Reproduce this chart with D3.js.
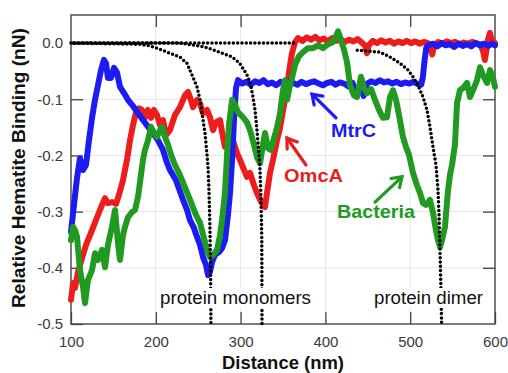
<!DOCTYPE html>
<html>
<head>
<meta charset="utf-8">
<script src="https://d3js.org/d3.v7.min.js"></script>
<style>
  body { margin: 0; background: #fff; }
  svg { font-family: "Liberation Sans", Arial, sans-serif; }
</style>
</head>
<body>
<svg id="chart" width="508" height="373"></svg>
<script>
// values (distance nm, binding nN)
const xTicks = [100, 200, 300, 400, 500, 600];
const yTicks = [0, -0.1, -0.2, -0.3, -0.4, -0.5];

const omcaData = [
  [100,-0.457],[102.4,-0.427],[104.7,-0.436],[108.3,-0.407],[113,-0.383],[117.7,-0.359],
  [122.4,-0.342],[127.1,-0.324],[131.8,-0.306],[136.6,-0.288],[140.1,-0.276],[143.6,-0.285],
  [148.3,-0.283],[153.1,-0.286],[156.6,-0.27],[161.3,-0.244],[166,-0.208],[169.6,-0.173],
  [173.1,-0.146],[176.7,-0.123],[180.2,-0.116],[183.7,-0.119],[187.3,-0.133],[190.8,-0.119],
  [194.3,-0.133],[197.9,-0.119],[201.4,-0.128],[205,-0.146],[208.5,-0.137],[212,-0.164],
  [216.7,-0.155],[222.6,-0.128],[228.5,-0.114],[234.4,-0.093],[238,-0.087],[241.5,-0.101],
  [243.9,-0.114],[248.6,-0.101],[252.1,-0.107],[255.7,-0.125],[260.4,-0.119],[263.9,-0.132],
  [267.5,-0.155],[271,-0.141],[275.7,-0.137],[279.2,-0.167],[281.6,-0.185],[286.3,-0.164],
  [291,-0.173],[295.8,-0.196],[299.3,-0.208],[302.8,-0.221],[307.5,-0.238],[311.1,-0.231],
  [315.8,-0.253],[319.3,-0.267],[322.9,-0.279],[325.2,-0.285],[328.8,-0.292],[331.1,-0.267],
  [334.7,-0.231],[338.2,-0.208],[342.9,-0.173],[346.5,-0.151],[351.2,-0.11],[354.7,-0.078],
  [358.3,-0.039],[360.6,-0.018],[364.2,0.002],[367.7,0.009],[373,0.004],[378,0.01],
  [383,0.006],[388,0.011],[393,0.005],[398,0.008],[403,0.003],[408,0.009],[413,0.004],
  [418,0.007],[423,0.002],[428,0.006],[433,0.003],[438,0.007],[443,0.001],[447,-0.005],
  [449,-0.018],[451,-0.004],[456,0.004],[461,0],[466,0.005],[471,0.001],[476,0.004],
  [481,-0.001],[486,0.003],[491,0],[496,0.004],[501,0],[506,0.003],[511,-0.001],[516,0.002],
  [521,0],[524,-0.01],[526,-0.02],[528,-0.004],[533,0.002],[538,-0.001],[543,0.003],
  [548,0],[553,0.002],[558,-0.002],[563,0.001],[568,-0.001],[573,0.002],[578,0],
  [583,-0.003],[586,-0.015],[588,-0.03],[590,-0.012],[592,0.008],[594,0.018],[596,0.006],[600,0]
];

const mtrcData = [
  [100,-0.336],[103.5,-0.288],[107.1,-0.24],[110.6,-0.205],[114.2,-0.226],[117.7,-0.217],
  [121.2,-0.173],[124.8,-0.133],[128.3,-0.101],[131.8,-0.075],[135.4,-0.048],[138.9,-0.03],
  [141.3,-0.036],[143.6,-0.062],[147.2,-0.062],[150.7,-0.044],[154.2,-0.052],[157.8,-0.078],
  [162.5,-0.089],[167.2,-0.101],[173.1,-0.112],[179,-0.125],[184.9,-0.137],[190.8,-0.149],
  [196.7,-0.16],[202.6,-0.173],[208.5,-0.19],[212.5,-0.21],[216.7,-0.226],[223.8,-0.244],
  [232.1,-0.279],[236.8,-0.297],[240.3,-0.315],[245,-0.329],[248.6,-0.345],[252.1,-0.359],
  [255.7,-0.381],[259.2,-0.395],[261.6,-0.413],[263.9,-0.407],[266.3,-0.39],[269.8,-0.377],
  [274.5,-0.372],[278.1,-0.365],[281.6,-0.351],[285.1,-0.306],[287.5,-0.267],[289.9,-0.208],
  [292.2,-0.137],[294.6,-0.08],[296.9,-0.066],[302,-0.072],[307,-0.069],[312,-0.074],
  [317,-0.068],[322,-0.071],[327,-0.066],[332,-0.073],[337,-0.07],[342,-0.075],[347,-0.069],
  [352,-0.072],[357,-0.067],[362,-0.071],[367,-0.074],[372,-0.069],[377,-0.073],[382,-0.07],
  [387,-0.068],[392,-0.072],[397,-0.075],[402,-0.071],[407,-0.069],[412,-0.074],[417,-0.07],
  [422,-0.072],[427,-0.077],[432,-0.071],[437,-0.092],[441,-0.075],[445,-0.094],[449,-0.072],
  [454,-0.068],[459,-0.071],[464,-0.066],[469,-0.07],[474,-0.068],[479,-0.072],[484,-0.069],
  [489,-0.073],[494,-0.07],[499,-0.072],[504,-0.069],[509,-0.073],[513,-0.074],[515,-0.06],
  [517,-0.03],[519,-0.008],[522,-0.003],[527,-0.001],[532,-0.006],[537,0],[542,-0.004],
  [547,-0.002],[552,-0.007],[557,-0.001],[562,-0.005],[567,-0.002],[572,-0.006],[577,0],
  [582,-0.004],[587,-0.001],[592,-0.005],[596,-0.001],[600,-0.004]
];

const bacteriaData = [
  [100,-0.351],[102.4,-0.327],[104.7,-0.333],[107.1,-0.345],[110.6,-0.404],[114.2,-0.434],
  [116.5,-0.463],[120,-0.422],[124.8,-0.404],[128.3,-0.374],[131.8,-0.386],[136.6,-0.368],
  [140.1,-0.399],[143.6,-0.359],[148.3,-0.327],[151.9,-0.297],[155.4,-0.356],[157.8,-0.386],
  [161.3,-0.342],[163.7,-0.327],[167.2,-0.31],[171.9,-0.301],[175.5,-0.297],[179,-0.274],
  [182.5,-0.235],[184.9,-0.208],[187.3,-0.19],[190.8,-0.173],[194.3,-0.149],[197.9,-0.16],
  [201.4,-0.167],[205,-0.155],[207.3,-0.149],[210.8,-0.167],[214.4,-0.181],[218,-0.199],
  [222.6,-0.217],[228.5,-0.235],[233.3,-0.253],[238,-0.27],[242.7,-0.288],[247.4,-0.306],
  [252.1,-0.32],[256.8,-0.347],[260.4,-0.368],[263.9,-0.381],[267.5,-0.377],[272.2,-0.368],
  [275.7,-0.342],[278.1,-0.315],[281.6,-0.267],[284,-0.199],[286.3,-0.146],[290,-0.101],
  [293.4,-0.11],[296.9,-0.123],[302.8,-0.132],[307.5,-0.141],[311.1,-0.155],[315.8,-0.181],
  [319.3,-0.203],[322.9,-0.214],[326.4,-0.181],[328.8,-0.16],[332.3,-0.187],[335.8,-0.19],
  [339.4,-0.169],[342.9,-0.151],[346.5,-0.125],[350,-0.084],[352.4,-0.066],[354.7,-0.101],
  [358.3,-0.075],[360.6,-0.062],[364.2,-0.039],[368.9,-0.023],[373.6,-0.016],[379.5,-0.009],
  [385.4,-0.009],[391.3,-0.004],[397.2,-0.009],[403.1,-0.002],[409,0.002],[412.5,0.012],
  [414.9,0.021],[418.4,0.005],[422,-0.012],[425.5,-0.034],[429,-0.075],[433.7,-0.093],
  [437.3,-0.096],[442,-0.06],[445.5,-0.08],[449.1,-0.089],[453.8,-0.082],[458.5,-0.101],
  [463.2,-0.119],[467.9,-0.133],[472.6,-0.132],[476.2,-0.096],[479.7,-0.084],[483.3,-0.101],
  [486.8,-0.128],[491.5,-0.167],[495,-0.185],[498.6,-0.199],[503.3,-0.231],[508,-0.253],
  [511.6,-0.267],[515.1,-0.285],[518.6,-0.288],[523.3,-0.279],[526.9,-0.302],[530.4,-0.333],
  [532.8,-0.351],[535.1,-0.363],[537.5,-0.351],[541,-0.327],[544.6,-0.262],[546.9,-0.235],
  [549.3,-0.217],[552.8,-0.181],[555.2,-0.107],[558.7,-0.084],[562.3,-0.08],[567,-0.071],
  [570.5,-0.096],[575.2,-0.08],[578.8,-0.066],[582.3,-0.043],[585.8,-0.057],[590.6,-0.071],
  [594.1,-0.048],[597.6,-0.062],[600,-0.078]
];

// dotted model curves (null = hidden behind the OmcA trace)
const monomer1Fit = [
  [100,0],[181.4,-0.002],[193.2,-0.005],[205,-0.011],[216.7,-0.018],[228.5,-0.025],
  [236.8,-0.036],[242.7,-0.057],[248.6,-0.078],[252.1,-0.101],[255.7,-0.137],[258,-0.16],
  [260.4,-0.199],[261.6,-0.221],[262.7,-0.262],[263.9,-0.333],[264.6,-0.404],[265,-0.5]
];
const monomer2Fit = [
  [100,0],[228.5,0],[246.2,-0.004],[258,-0.007],[267.5,-0.012],[278.1,-0.018],[287.5,-0.023],
  [294.6,-0.03],[299.3,-0.037],[304,-0.048],[308.7,-0.06],[312.3,-0.078],[314.6,-0.096],
  [317,-0.119],[319.3,-0.155],[321.7,-0.199],[322.9,-0.226],[324.1,-0.279],[325,-0.351],[325.2,-0.5]
];
const dimerFit = [
  [100,0],[364,0],null,[433.7,-0.012],[446.7,-0.014],[464.4,-0.016],[476.2,-0.025],
  [488,-0.036],[497.4,-0.048],[503.3,-0.06],[509.2,-0.075],[515.1,-0.096],[519.8,-0.119],
  [523.3,-0.149],[526.9,-0.185],[530.4,-0.217],[532.8,-0.262],[534,-0.306],[535.1,-0.368],
  [536.3,-0.44],[537,-0.5]
];

const svg = d3.select("#chart");

const x = d3.scaleLinear().domain([100, 600]).range([71, 495]);
const y = d3.scaleLinear().domain([-0.5, 0.05]).range([324, 15]);

// faint grid
const grid = svg.append("g").attr("class", "grid");
grid.selectAll("line.vx")
    .data(xTicks.slice(1, -1))
    .enter().append("line")
      .attr("x1", d => x(d)).attr("x2", d => x(d))
      .attr("y1", y(0.05)).attr("y2", y(-0.5))
      .attr("stroke", "#e6e6e6").attr("stroke-width", 1);
grid.selectAll("line.hy")
    .data(yTicks.slice(1, -1))
    .enter().append("line")
      .attr("x1", x(100)).attr("x2", x(600))
      .attr("y1", d => y(d)).attr("y2", d => y(d))
      .attr("stroke", "#e6e6e6").attr("stroke-width", 1);

// axes with inward ticks
const axisColor = "#444";
function styleAxis(g) {
  g.select(".domain").remove();
  g.selectAll(".tick line").attr("stroke", axisColor).attr("stroke-width", 1.3);
  g.selectAll(".tick text").attr("fill", "#3a3a3a").style("font-size", "15px");
}
svg.append("g")
   .attr("transform", `translate(0,${y(-0.5)})`)
   .call(d3.axisBottom(x).tickValues(xTicks).tickSize(-12).tickPadding(12).tickFormat(d3.format("d")))
   .call(styleAxis);
svg.append("g")
   .attr("transform", `translate(0,${y(0.05)})`)
   .call(d3.axisTop(x).tickValues(xTicks.slice(1, -1)).tickSize(-12).tickFormat(""))
   .call(styleAxis);
svg.append("g")
   .attr("transform", `translate(${x(100)},0)`)
   .call(d3.axisLeft(y).tickValues(yTicks).tickSize(-12).tickPadding(8).tickFormat(d => d.toFixed(1)))
   .call(styleAxis);
svg.append("g")
   .attr("transform", `translate(${x(600)},0)`)
   .call(d3.axisRight(y).tickValues(yTicks.slice(1, -1)).tickSize(-12).tickFormat(""))
   .call(styleAxis);

svg.append("rect")
   .attr("x", x(100)).attr("y", y(0.05))
   .attr("width", x(600) - x(100)).attr("height", y(-0.5) - y(0.05))
   .attr("fill", "none").attr("stroke", axisColor).attr("stroke-width", 1.4);

// traces
const line = d3.line()
               .defined(d => d !== null)
               .x(d => x(d[0]))
               .y(d => y(d[1]));

const traces = [
  { data: omcaData, color: "#ee1d1d" },
  { data: mtrcData, color: "#1c1cf2" },
  { data: bacteriaData, color: "#219a21" }
];
svg.append("g")
   .selectAll("path")
   .data(traces)
   .enter().append("path")
     .attr("d", d => line(d.data))
     .attr("fill", "none")
     .attr("stroke", d => d.color)
     .attr("stroke-width", 6)
     .attr("stroke-linejoin", "round")
     .attr("stroke-linecap", "round");

// dotted curves on top
svg.append("g")
   .selectAll("path")
   .data([[monomer1Fit, 0], [monomer2Fit, 2.1], [dimerFit, 1]])
   .enter().append("path")
     .attr("d", d => line(d[0]))
     .attr("fill", "none")
     .attr("stroke", "#000")
     .attr("stroke-width", 3.5)
     .attr("stroke-linecap", "round")
     .attr("stroke-dasharray", "0 4.3")
     .attr("stroke-dashoffset", d => d[1]);

// labels for the dotted curves, on white boxes
function boxedLabel(text, cx, width) {
  const g = svg.append("g");
  g.append("rect")
   .attr("x", cx - width / 2 - 2).attr("y", 288)
   .attr("width", width + 4).attr("height", 20)
   .attr("fill", "#fff");
  g.append("text")
   .attr("x", cx).attr("y", 304)
   .attr("text-anchor", "middle")
   .attr("textLength", width)
   .attr("lengthAdjust", "spacingAndGlyphs")
   .style("font-size", "18px")
   .attr("fill", "#111")
   .text(text);
}
boxedLabel("protein monomers", 235.5, 151);
boxedLabel("protein dimer", 428.5, 109);

// series annotations with arrows
function arrow(x1, y1, x2, y2, color) {
  const ang = Math.atan2(y2 - y1, x2 - x1);
  const len = 11, spread = 0.6;
  const g = svg.append("g")
               .attr("stroke", color).attr("stroke-width", 3.2)
               .attr("stroke-linecap", "round").attr("fill", "none");
  g.append("line").attr("x1", x1).attr("y1", y1).attr("x2", x2).attr("y2", y2);
  g.append("polyline")
   .attr("points", [
     [x2 - len * Math.cos(ang - spread), y2 - len * Math.sin(ang - spread)],
     [x2, y2],
     [x2 - len * Math.cos(ang + spread), y2 - len * Math.sin(ang + spread)]
   ].map(p => p.join(",")).join(" "));
}
function tag(text, px, py, width, color) {
  svg.append("text")
     .attr("x", px).attr("y", py)
     .attr("textLength", width)
     .attr("lengthAdjust", "spacingAndGlyphs")
     .style("font-size", "19px").style("font-weight", "bold")
     .attr("fill", color)
     .text(text);
}
arrow(x(412.5), y(-0.133), x(384.2), y(-0.091), "#1c1cf2");
tag("MtrC", x(406.6), y(-0.167), 45, "#1c1cf2");
arrow(x(377.1), y(-0.217), x(354.7), y(-0.169), "#e51e1e");
tag("OmcA", x(351.2), y(-0.247), 59, "#e51e1e");
arrow(x(458.5), y(-0.283), x(490.3), y(-0.238), "#219a21");
tag("Bacteria", x(413.7), y(-0.311), 78, "#219a21");

// axis titles
svg.append("text")
   .attr("x", 283).attr("y", 369)
   .attr("text-anchor", "middle")
   .attr("textLength", 122).attr("lengthAdjust", "spacingAndGlyphs")
   .style("font-size", "18px").style("font-weight", "bold")
   .attr("fill", "#111")
   .text("Distance (nm)");
svg.append("text")
   .attr("transform", "translate(25,168) rotate(-90)")
   .attr("text-anchor", "middle")
   .attr("textLength", 280).attr("lengthAdjust", "spacingAndGlyphs")
   .style("font-size", "18px").style("font-weight", "bold")
   .attr("fill", "#111")
   .text("Relative Hematite Binding (nN)");
</script>
</body>
</html>
